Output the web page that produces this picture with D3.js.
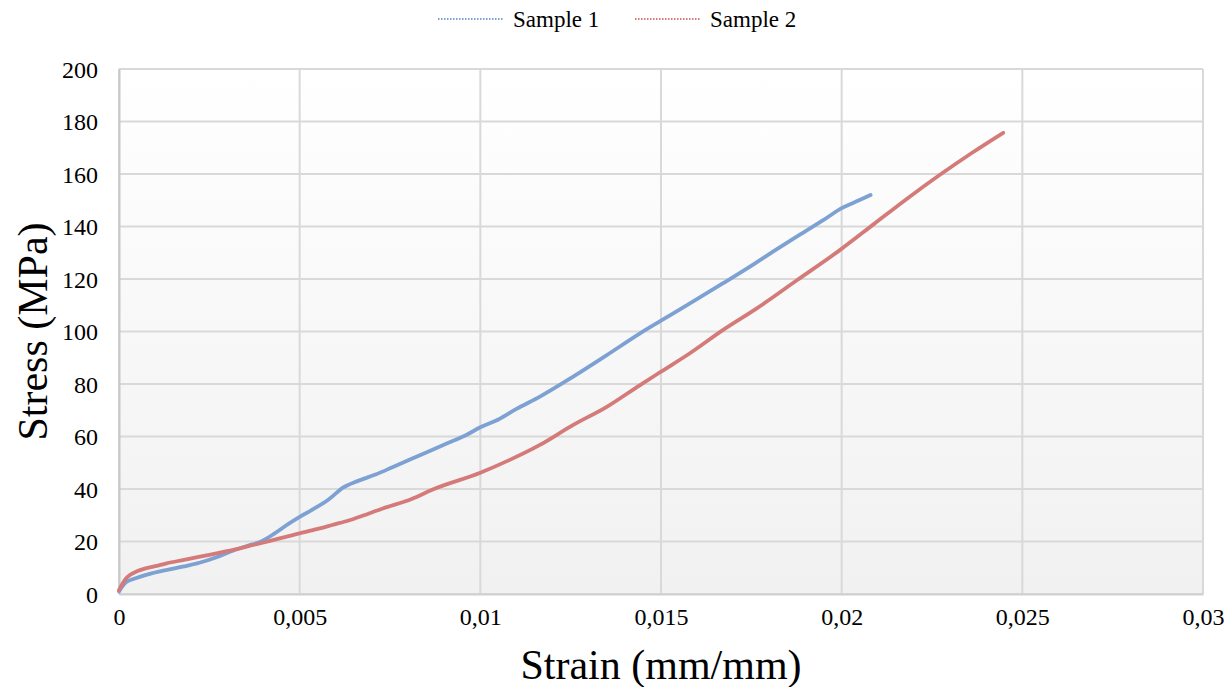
<!DOCTYPE html>
<html>
<head>
<meta charset="utf-8">
<script src="https://cdn.jsdelivr.net/npm/d3@7"></script>
<style>
  body { margin: 0; background: #fff; }
  svg text { font-family: "Liberation Serif", "Times New Roman", serif; fill: #000; }
</style>
</head>
<body>
<div id="vis"></div>
<script>
// Datos
const SERIES_NAMES = ["Sample 1", "Sample 2"];
const SERIES_COLORS = ["#7ca1d2", "#d47b79"];

const strain1 = [0, 0.0001, 0.0002, 0.0004, 0.0008, 0.0013, 0.0018, 0.0022, 0.0027, 0.0032, 0.0036, 0.0039,
  0.0043, 0.0047, 0.005, 0.0054, 0.0058, 0.0062, 0.0066, 0.0071, 0.0076, 0.0081, 0.0086, 0.0091, 0.0096,
  0.01, 0.0105, 0.011, 0.01165, 0.01257, 0.0135, 0.01442, 0.015, 0.0158, 0.01672, 0.01755, 0.01811,
  0.0188, 0.0195, 0.02, 0.0204, 0.0208];
const stress1 = [1, 3, 4.5, 5.7, 7.5, 9.1, 10.5, 11.8, 14, 16.8, 18.5, 19.8,
  23, 26.8, 29.4, 32.5, 36, 40.5, 43, 45.5, 48.5, 51.5, 54.5, 57.5, 60.5,
  63.5, 66.5, 70.5, 75.2, 82.8, 91, 99.3, 104.1, 110.7, 118.4, 125.5, 130.5,
  136.5, 142.5, 147, 149.5, 152];

const strain2 = [0, 0.0001, 0.0002, 0.0003, 0.0005, 0.00067, 0.001, 0.00132, 0.0018, 0.00224, 0.0027,
  0.00316, 0.0036, 0.00409, 0.0045, 0.005, 0.0055, 0.0059, 0.0064, 0.0069, 0.0073, 0.0081, 0.0087,
  0.01, 0.0108, 0.01165, 0.01257, 0.0135, 0.01442, 0.015, 0.0158, 0.01672, 0.01765, 0.01876,
  0.01995, 0.0209, 0.0218, 0.0227, 0.0236, 0.02447];
const stress2 = [1.5, 4, 6, 7.2, 8.7, 9.5, 10.6, 11.7, 13, 14.2, 15.5,
  16.8, 18.3, 19.9, 21.4, 23.1, 24.8, 26.3, 28.2, 30.6, 32.6, 36.2, 39.9,
  46.2, 51, 56.8, 64.4, 71.3, 79.6, 84.7, 91.7, 100.6, 108.8, 119.5,
  131, 141, 150.5, 159.5, 168, 175.7];

const xTicks = [0, 0.005, 0.01, 0.015, 0.02, 0.025, 0.03];
const yTicks = [0, 20, 40, 60, 80, 100, 120, 140, 160, 180, 200];

const WIDTH = 1226;
const HEIGHT = 687;
const MARGIN = { top: 69, bottom: 93, left: 119, right: 23 };
const WIDTHVIS = WIDTH - MARGIN.left - MARGIN.right;
const HEIGHTVIS = HEIGHT - MARGIN.top - MARGIN.bottom;

const SVG = d3.select("#vis").append("svg")
  .attr("width", WIDTH).attr("height", HEIGHT);

const defs = SVG.append("defs");
const grad = defs.append("linearGradient")
  .attr("id", "plotBg").attr("x1", 0).attr("y1", 0).attr("x2", 0).attr("y2", 1);
grad.append("stop").attr("offset", "0%").attr("stop-color", "#ffffff");
grad.append("stop").attr("offset", "100%").attr("stop-color", "#f1f1f1");

const escalaX = d3.scaleLinear().domain([0, 0.03]).range([0, WIDTHVIS]);
const escalaY = d3.scaleLinear().domain([0, 200]).range([HEIGHTVIS, 0]);

const contenedor = SVG.append("g")
  .attr("transform", `translate(${MARGIN.left} ${MARGIN.top})`);

contenedor.append("rect")
  .attr("width", WIDTHVIS).attr("height", HEIGHTVIS)
  .attr("fill", "url(#plotBg)");

// grilla
contenedor.selectAll(".gridY")
  .data(yTicks)
  .join("line")
  .attr("class", "gridY")
  .attr("x1", 0).attr("x2", WIDTHVIS)
  .attr("y1", d => escalaY(d)).attr("y2", d => escalaY(d))
  .attr("stroke", "#d9d9d9").attr("stroke-width", 2);

contenedor.selectAll(".gridX")
  .data(xTicks)
  .join("line")
  .attr("class", "gridX")
  .attr("x1", d => escalaX(d)).attr("x2", d => escalaX(d))
  .attr("y1", 0).attr("y2", HEIGHTVIS)
  .attr("stroke", "#d9d9d9").attr("stroke-width", 2);

// ejes
const fmtX = d => d === 0 ? "0" : String(d).replace(".", ",");

const ejeX = d3.axisBottom(escalaX).tickValues(xTicks).tickFormat(fmtX).tickSize(0).tickPadding(14);
const gx = contenedor.append("g")
  .attr("transform", `translate(0, ${HEIGHTVIS})`)
  .call(ejeX);
gx.attr("font-family", null);
gx.select(".domain").attr("stroke", "#d0d0d0").attr("stroke-width", 2);
gx.selectAll("text").style("font-size", "24px").attr("dy", "0.71em");

const ejeY = d3.axisLeft(escalaY).tickValues(yTicks).tickSize(0).tickPadding(21);
const gy = contenedor.append("g").call(ejeY);
gy.attr("font-family", null);
gy.select(".domain").attr("stroke", "#c8c8c8").attr("stroke-width", 2);
gy.selectAll("text").style("font-size", "24px").attr("dy", "0.34em");

// lineas
const datos = [
  strain1.map((s, i) => ({ x: s, y: stress1[i] })),
  strain2.map((s, i) => ({ x: s, y: stress2[i] }))
];

const linea = d3.line()
  .x(d => escalaX(d.x))
  .y(d => escalaY(d.y))
  .curve(d3.curveMonotoneX);

contenedor.selectAll(".serie")
  .data(datos)
  .join("path")
  .attr("class", "serie")
  .attr("fill", "none")
  .attr("stroke", (d, i) => SERIES_COLORS[i])
  .attr("stroke-width", 3.8)
  .attr("stroke-linejoin", "round")
  .attr("stroke-linecap", "round")
  .attr("d", linea);

// titulos
SVG.append("text")
  .attr("x", MARGIN.left + WIDTHVIS / 2)
  .attr("y", 679)
  .attr("text-anchor", "middle")
  .style("font-size", "42px")
  .text("Strain (mm/mm)");

SVG.append("text")
  .attr("transform", `translate(47 ${MARGIN.top + HEIGHTVIS / 2}) rotate(-90)`)
  .attr("text-anchor", "middle")
  .style("font-size", "42px")
  .text("Stress (MPa)");

// leyenda
const leyendaX = [438, 635];
const leyenda = SVG.selectAll(".leyenda")
  .data(SERIES_NAMES)
  .join("g")
  .attr("class", "leyenda")
  .attr("transform", (d, i) => `translate(${leyendaX[i]} 19)`);

leyenda.append("line")
  .attr("x1", 0).attr("x2", 66)
  .attr("y1", 0).attr("y2", 0)
  .attr("stroke", (d, i) => SERIES_COLORS[i])
  .attr("stroke-width", 2)
  .attr("stroke-dasharray", "1.5 1.5");

leyenda.append("text")
  .attr("x", 75)
  .attr("y", 8)
  .style("font-size", "23px")
  .text(d => d);
</script>
</body>
</html>
